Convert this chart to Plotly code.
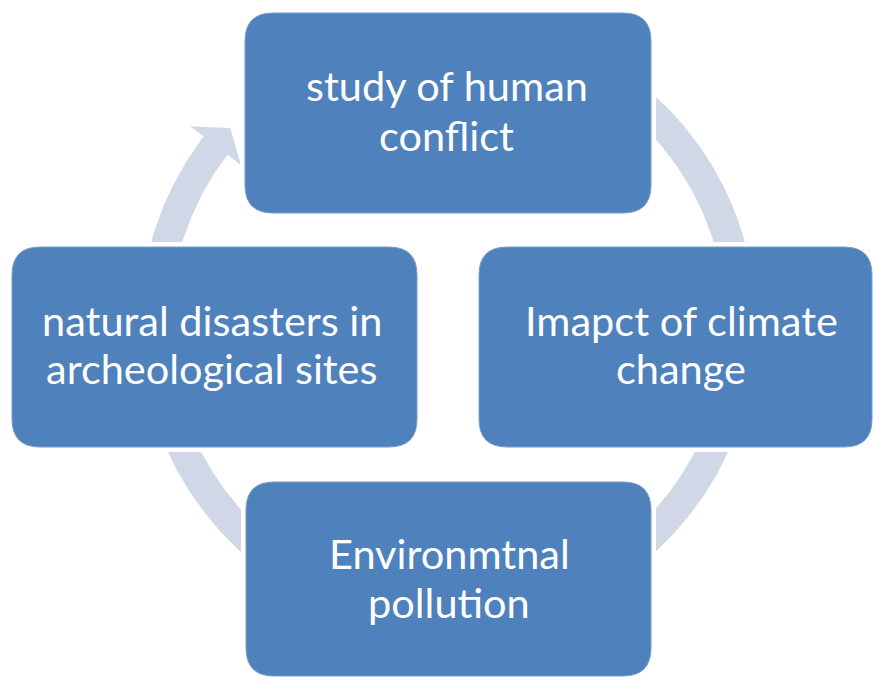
import numpy as np
import plotly.graph_objects as go

# ---- content ----
labels = [
    ["study of human", "conflict"],
    ["Imapct of climate", "change"],
    ["Environmtnal", "pollution"],
    ["natural disasters in", "archeological sites"],
]

# ---- layout constants (pixels) ----
W, H = 873, 677
BOX_COLOR = "#4F81BD"
ARROW_COLOR = "#D0D8E8"
boxes = [(245, 13, 651, 213), (479, 247, 872, 447), (246, 482, 651, 676), (12, 247, 417, 447)]
text_x = [446.5, 681, 449, 212]
text_base = [(100, 150), (335, 383), (568, 617), (335, 383)]
FONT_SIZE = 41.5
CX, CY = 448, 324
R_IN, R_OUT = 278, 308
BARB = 17
HEAD_DEG = 4.5
arrow_spans = [(200, 138), (62, -2), (-20, -62), (-118, -178)]  # start -> tip (deg)


def pt(r, deg):
    a = np.radians(deg)
    return CX + r * np.cos(a), CY - r * np.sin(a)


def arrow_poly(a0, at):
    ab = at + HEAD_DEG
    xs, ys = [], []
    for d in np.linspace(a0, ab, 80):
        x, y = pt(R_OUT, d); xs.append(x); ys.append(y)
    for r, d in [(R_OUT + BARB, ab), ((R_IN + R_OUT) / 2, at), (R_IN - BARB, ab)]:
        x, y = pt(r, d); xs.append(x); ys.append(y)
    for d in np.linspace(ab, a0, 80):
        x, y = pt(R_IN, d); xs.append(x); ys.append(y)
    xs.append(xs[0]); ys.append(ys[0])
    return xs, ys


def rrect(x0, y0, x1, y1, r):
    return (f"M{x0+r},{y0} L{x1-r},{y0} Q{x1},{y0} {x1},{y0+r} L{x1},{y1-r} "
            f"Q{x1},{y1} {x1-r},{y1} L{x0+r},{y1} Q{x0},{y1} {x0},{y1-r} "
            f"L{x0},{y0+r} Q{x0},{y0} {x0+r},{y0} Z")


fig = go.Figure()
for a0, at in arrow_spans:
    xs, ys = arrow_poly(a0, at)
    fig.add_trace(go.Scatter(x=xs, y=ys, mode="lines", fill="toself",
                             fillcolor=ARROW_COLOR, line=dict(width=0, color=ARROW_COLOR),
                             hoverinfo="skip", showlegend=False))

shapes = []
HALO = 5
for (x0, y0, x1, y1) in boxes:
    shapes.append(dict(type="path", path=rrect(x0 - HALO, y0 - HALO, x1 + HALO, y1 + HALO, 32),
                       xref="x", yref="y", fillcolor="white", line=dict(width=0), layer="above"))
for (x0, y0, x1, y1) in boxes:
    shapes.append(dict(type="path", path=rrect(x0, y0, x1, y1, 28),
                       xref="x", yref="y", fillcolor=BOX_COLOR,
                       line=dict(width=1, color="#7A9CCB"), layer="above"))

annotations = []
for lines, tx, bases in zip(labels, text_x, text_base):
    for line, b in zip(lines, bases):
        annotations.append(dict(x=tx, y=b - 0.35 * FONT_SIZE, xref="x", yref="y", text=line,
                                showarrow=False, xanchor="center", yanchor="middle",
                                font=dict(family="Lato", size=FONT_SIZE, color="white")))

fig.update_layout(
    width=W, height=H, margin=dict(l=0, r=0, t=0, b=0),
    paper_bgcolor="white", plot_bgcolor="white",
    xaxis=dict(range=[0, W], visible=False, fixedrange=True),
    yaxis=dict(range=[H, 0], visible=False, fixedrange=True),
    shapes=shapes, annotations=annotations, showlegend=False,
)
fig.write_html(
    "out.html",
    config={"displayModeBar": False, "staticPlot": True},
    post_script="document.body.style.margin='0';document.body.style.overflow='hidden';",
)
